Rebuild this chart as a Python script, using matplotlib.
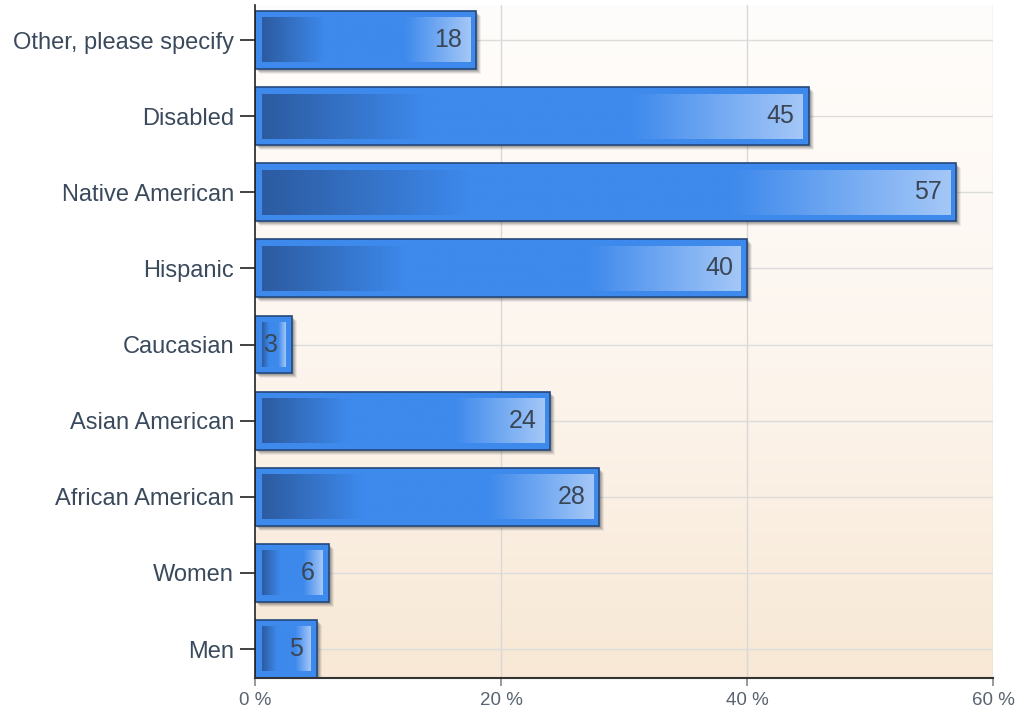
import numpy as np
import matplotlib.pyplot as plt
from matplotlib.patches import Rectangle
from matplotlib.colors import LinearSegmentedColormap

# Share of respondents per group (percent), bottom to top
categories = ["Men", "Women", "African American", "Asian American", "Caucasian",
              "Hispanic", "Native American", "Disabled", "Other, please specify"]
values = [5, 6, 28, 24, 3, 40, 57, 45, 18]
x_ticks = [0, 20, 40, 60]
x_tick_labels = ["0 %", "20 %", "40 %", "60 %"]

plt.rcParams['font.family'] = ['Liberation Sans', 'DejaVu Sans']

W, H = 1016, 710
fig = plt.figure(figsize=(W / 100, H / 100), dpi=100)
ax = fig.add_axes([255 / W, 1 - 678 / H, (993 - 255) / W, (678 - 5) / H])

xmin, xmax = 0, 60
ymin, ymax = -0.38, len(categories) - 1 + 0.46
ax.set_xlim(xmin, xmax)
ax.set_ylim(ymin, ymax)

# pixel -> data conversions
ax_w_px = 993 - 255
ax_h_px = 678 - 5
px_x = (xmax - xmin) / ax_w_px
px_y = (ymax - ymin) / ax_h_px

# Plot-area background: near-white at top fading to peach at the bottom
bg_cmap = LinearSegmentedColormap.from_list("bg", ["#f8e8d5", "#fdf6ef", "#fffdfb"])
grad = np.linspace(0, 1, 256).reshape(-1, 1)
ax.imshow(grad, cmap=bg_cmap, origin="lower", aspect="auto",
          extent=[0, 1, 0, 1], transform=ax.transAxes, zorder=0)

# Grid lines
for xt in x_ticks[1:]:
    ax.axvline(xt, color="#d8d8d8", lw=1.0, zorder=1)
for i in range(len(categories)):
    ax.axhline(i, color="#dcdcdc", lw=1.0, zorder=1)

# Inner gradient of each bar: dark on the left, flat blue, light on the right
bar_cmap = LinearSegmentedColormap.from_list(
    "bar", [(0.0, "#2c5ba0"), (0.30, "#3d89ec"), (0.68, "#3d89ec"), (1.0, "#a4c7f7")])
hgrad = np.linspace(0, 1, 256).reshape(1, -1)

bar_h = 0.76
inset = 6.5
for i, v in enumerate(values):
    y0 = i - bar_h / 2
    # soft drop shadow
    for k, a in [(5, 0.08), (4, 0.12), (3, 0.16), (2, 0.2)]:
        ax.add_patch(Rectangle((0 + k * px_x, y0 - k * px_y), v, bar_h,
                               facecolor="#404040", alpha=a, lw=0, zorder=2))
    # outer bar
    ax.add_patch(Rectangle((0, y0), v, bar_h, facecolor="#3d89ec",
                           edgecolor="#24487a", lw=1.2, zorder=3))
    # inner gradient panel
    ix0 = inset * px_x
    ix1 = v - inset * px_x
    iy0 = y0 + inset * px_y
    iy1 = y0 + bar_h - inset * px_y
    if ix1 > ix0:
        ax.imshow(hgrad, cmap=bar_cmap, aspect="auto",
                  extent=[ix0, ix1, iy0, iy1], zorder=4, interpolation="bilinear")
    # value label
    ax.text(v - 14 * px_x, i, f"{v}", ha="right", va="center",
            fontsize=18, color="#3a4654", zorder=5)

ax.set_xlim(xmin, xmax)
ax.set_ylim(ymin, ymax)

ax.set_yticks(range(len(categories)))
ax.set_yticklabels(categories, fontsize=17, color="#3a4a5c")
ax.set_xticks(x_ticks)
ax.set_xticklabels(x_tick_labels, fontsize=13.5, color="#5a6470")

ax.tick_params(axis="y", length=11, width=1.2, color="#222222", pad=4)
ax.tick_params(axis="x", length=6, width=1.2, color="#888888", pad=4)

for s in ["top", "right"]:
    ax.spines[s].set_visible(False)
ax.spines["left"].set_color("#222222")
ax.spines["left"].set_linewidth(1.2)
ax.spines["bottom"].set_color("#333333")
ax.spines["bottom"].set_linewidth(1.5)
ax.spines["left"].set_zorder(6)
ax.spines["bottom"].set_zorder(6)

fig.savefig("out.png", dpi=100, facecolor="white")
